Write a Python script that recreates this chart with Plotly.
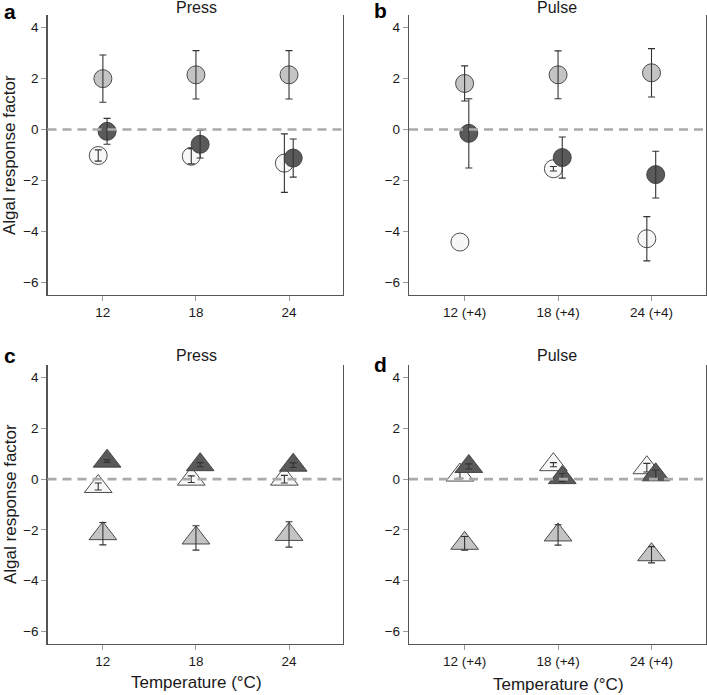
import plotly.graph_objects as go

W, H = 707, 695

# ---------------- data ----------------
press_labels = ["12", "18", "24"]
pulse_labels = ["12 (+4)", "18 (+4)", "24 (+4)"]

# Panel a (Press, circles)
a_open = [-1.02, -1.05, -1.32]
a_open_err = [0.22, 0.30, 1.15]
a_light = [2.00, 2.15, 2.15]
a_light_err = [0.93, 0.95, 0.95]
a_dark = [-0.07, -0.58, -1.12]
a_dark_err = [0.51, 0.54, 0.75]

# Panel b (Pulse, circles)
b_open = [-4.42, -1.54, -4.29]
b_open_err = [None, 0.09, 0.87]
b_light = [1.81, 2.15, 2.23]
b_light_err = [0.69, 0.94, 0.95]
b_dark = [-0.15, -1.10, -1.77]
b_dark_err = [1.36, 0.81, 0.92]

# Panel c (Press, triangles)
c_open = [-0.29, 0.00, 0.00]
c_open_err = [0.14, 0.13, 0.15]
c_light = [-2.15, -2.32, -2.18]
c_light_err = [0.44, 0.48, 0.50]
c_dark = [0.71, 0.57, 0.55]
c_dark_err = [0.05, 0.08, 0.09]

# Panel d (Pulse, triangles)
d_open = [0.16, 0.57, 0.45]
d_open_err = [0.13, 0.08, 0.17]
d_light = [-2.53, -2.20, -2.98]
d_light_err = [0.27, 0.40, 0.32]
d_dark = [0.50, 0.06, 0.17]
d_dark_err = [0.10, 0.16, 0.18]

y_ticks = [-6, -4, -2, 0, 2, 4]

# ---------------- style ----------------
FONT = "Arial, Liberation Sans, Helvetica, sans-serif"
TXT = "#1a1a1a"
FILLS = {"open": "#f7f7f7", "light": "#c4c4c4", "dark": "#5a5a5a"}
DODGE = {"open": -0.05, "light": 0.0, "dark": 0.045}
ERRC = "#333333"


def px_x(p):
    return p / W


def px_y(p):
    return 1 - p / H


fig = go.Figure()

panels = [
    ("x", "y", press_labels, "circle", 18,
     [("open", a_open, a_open_err), ("light", a_light, a_light_err), ("dark", a_dark, a_dark_err)]),
    ("x2", "y2", pulse_labels, "circle", 18,
     [("open", b_open, b_open_err), ("light", b_light, b_light_err), ("dark", b_dark, b_dark_err)]),
    ("x3", "y3", press_labels, "triangle-up", 24,
     [("open", c_open, c_open_err), ("light", c_light, c_light_err), ("dark", c_dark, c_dark_err)]),
    ("x4", "y4", pulse_labels, "triangle-up", 24,
     [("open", d_open, d_open_err), ("light", d_light, d_light_err), ("dark", d_dark, d_dark_err)]),
]

for xa, ya, labels, symbol, msize, series in panels:
    for key, vals, errs in series:
        xs = [i + DODGE[key] for i in range(len(labels))]
        fig.add_trace(go.Scatter(
            x=xs, y=vals, xaxis=xa, yaxis=ya, mode="markers",
            marker=dict(symbol=symbol, size=msize, color=FILLS[key],
                        line=dict(color="#3a3a3a", width=0.9)),
            showlegend=False, hoverinfo="skip"))
        # error bars drawn on top of the markers (only where an error exists)
        keep = [j for j, e in enumerate(errs) if e is not None]
        fig.add_trace(go.Scatter(
            x=[xs[j] for j in keep], y=[vals[j] for j in keep],
            xaxis=xa, yaxis=ya, mode="markers",
            marker=dict(size=1, color="rgba(0,0,0,0)"),
            error_y=dict(type="data", array=[errs[j] for j in keep], visible=True,
                         color=ERRC, thickness=1.1, width=3.5),
            showlegend=False, hoverinfo="skip"))

xdom = {"x": [47.5, 343], "x2": [409, 705.7], "x3": [47.5, 343], "x4": [409, 705.7]}
ydom = {"y": [295, 15], "y2": [295, 15], "y3": [644, 365], "y4": [644, 365]}
labels_for = {"x": press_labels, "x2": pulse_labels, "x3": press_labels, "x4": pulse_labels}

layout = dict(
    width=W, height=H, margin=dict(l=0, r=0, t=0, b=0),
    paper_bgcolor="white", plot_bgcolor="white",
    font=dict(family=FONT, color=TXT, size=13),
    showlegend=False,
)

for xa, ya in [("x", "y"), ("x2", "y2"), ("x3", "y3"), ("x4", "y4")]:
    xname = "xaxis" if xa == "x" else "xaxis" + xa[1:]
    yname = "yaxis" if ya == "y" else "yaxis" + ya[1:]
    layout[xname] = dict(
        domain=[px_x(xdom[xa][0]), px_x(xdom[xa][1])],
        anchor=ya, range=[-0.595, 2.58],
        tickvals=[0, 1, 2], ticktext=labels_for[xa],
        showline=True, linecolor="#555555", linewidth=1.2, mirror=False,
        ticks="outside", ticklen=5, tickcolor="#9a9a9a", tickwidth=1,
        showgrid=False, zeroline=False, tickfont=dict(size=13.5, color=TXT),
        fixedrange=True,
    )
    layout[yname] = dict(
        domain=[px_y(ydom[ya][0]), px_y(ydom[ya][1])],
        anchor=xa, range=[-6.5, 4.5], tickvals=y_ticks,
        showline=True, linecolor="#555555", linewidth=1.2, mirror=True,
        ticks="outside", ticklen=5, tickcolor="#9a9a9a", tickwidth=1,
        showgrid=False, zeroline=False, tickfont=dict(size=13.5, color=TXT),
        fixedrange=True,
    )

shapes = []
for xa, ya in [("x", "y"), ("x2", "y2"), ("x3", "y3"), ("x4", "y4")]:
    shapes.append(dict(type="line", xref=xa + " domain", yref=ya,
                       x0=0, x1=1, y0=0, y1=0, layer="above",
                       line=dict(color="#aaaaaa", width=2.6, dash="9px,6px")))
layout["shapes"] = shapes

ann = []
# panel letters
for txt, x, y in [("a", 10, 11), ("b", 381, 10), ("c", 10, 356), ("d", 381, 364)]:
    ann.append(dict(text="<b>%s</b>" % txt, x=px_x(x), y=px_y(y), xref="paper", yref="paper",
                    xanchor="center", yanchor="middle", showarrow=False,
                    font=dict(size=21, color="#000000", family=FONT)))
# titles
for txt, x, y in [("Press", 196, 8), ("Pulse", 557, 8), ("Press", 196, 355), ("Pulse", 557, 355)]:
    ann.append(dict(text=txt, x=px_x(x), y=px_y(y), xref="paper", yref="paper",
                    xanchor="center", yanchor="middle", showarrow=False,
                    font=dict(size=16, color=TXT, family=FONT)))
# y axis titles
for y in [155, 504]:
    ann.append(dict(text="Algal response factor", x=px_x(10), y=px_y(y), xref="paper", yref="paper",
                    xanchor="center", yanchor="middle", showarrow=False, textangle=-90,
                    font=dict(size=17, color=TXT, family=FONT)))
# x axis titles
for x, y in [(196.5, 682), (558, 684)]:
    ann.append(dict(text="Temperature (°C)", x=px_x(x), y=px_y(y), xref="paper", yref="paper",
                    xanchor="center", yanchor="middle", showarrow=False,
                    font=dict(size=17, color=TXT, family=FONT)))
layout["annotations"] = ann

fig.update_layout(**layout)
fig.write_html("out.html",
               config={"displayModeBar": False, "staticPlot": True},
               post_script="document.body.style.margin='0';document.body.style.overflow='hidden';")
